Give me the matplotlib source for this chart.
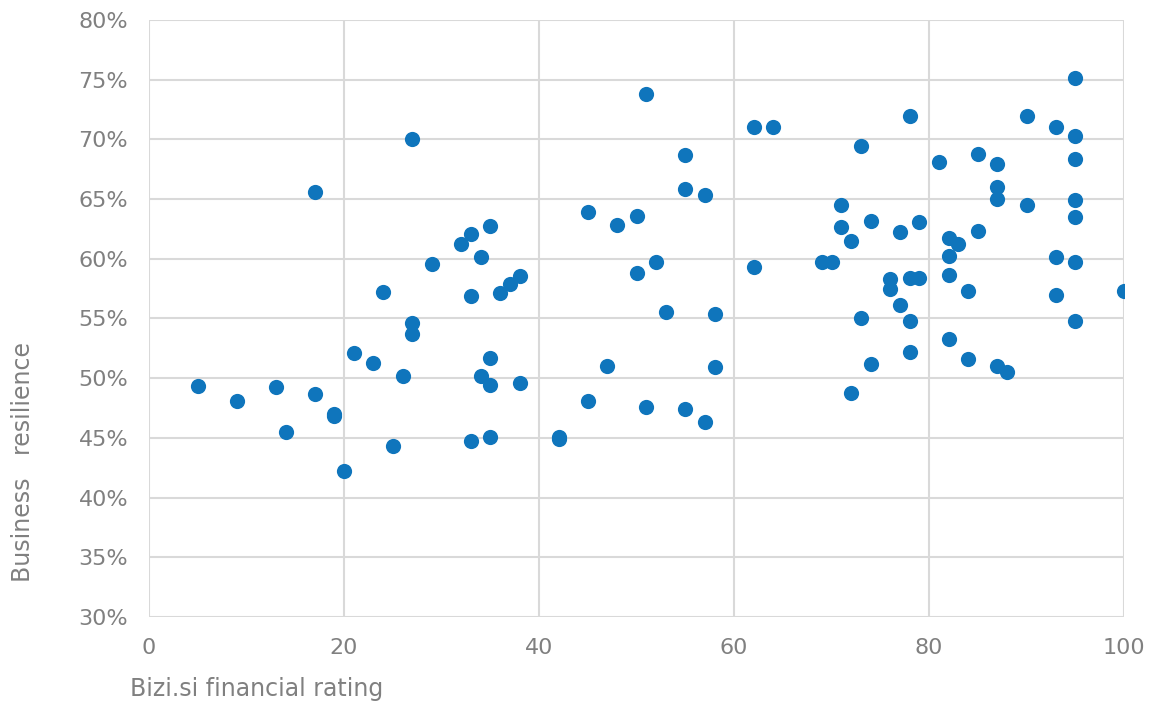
import matplotlib
matplotlib.use("Agg")
import matplotlib.pyplot as plt
from matplotlib.ticker import FuncFormatter, MultipleLocator

# Bizi.si financial rating vs. business resilience (%)
rating = [5, 9, 13, 14, 17, 17, 19, 19, 20, 21, 23, 24, 25, 26, 27, 27, 27, 29,
          32, 33, 33, 33, 34, 34, 35, 35, 35, 35, 36, 37, 38, 38, 42, 42,
          45, 45, 47, 48, 50, 50, 51, 51, 52, 53, 55, 55, 55, 57, 57, 58, 58,
          62, 62, 64, 69, 70, 71, 71, 72, 72, 73, 73, 74, 74, 76, 76, 77, 77,
          78, 78, 78, 78, 79, 79, 81, 82, 82, 82, 82, 83, 84, 84, 85, 85,
          87, 87, 87, 87, 88, 90, 90, 93, 93, 93, 95, 95, 95, 95, 95, 95, 95, 100]
resilience = [49.35, 48.05, 49.3, 45.5, 65.6, 48.7, 47.0, 46.8, 42.25, 52.1, 51.25, 57.2,
              44.3, 50.2, 70.0, 54.6, 53.7, 59.6,
              61.2, 62.1, 56.9, 44.7, 60.15, 50.2, 62.75, 51.7, 49.4, 45.1, 57.16, 57.86,
              58.56, 49.6, 45.1, 44.9,
              63.9, 48.05, 51.0, 62.8, 63.6, 58.8, 73.8, 47.6, 59.76, 55.52, 68.7, 65.85,
              47.45, 65.37, 46.3, 55.38, 50.9,
              71.04, 59.3, 71.0, 59.76, 59.7, 64.5, 62.7, 61.5, 48.8, 69.45, 55.07, 63.2,
              51.16, 58.28, 57.44, 62.25, 56.13,
              71.96, 58.4, 54.77, 52.17, 63.08, 58.4, 68.13, 61.7, 60.2, 58.64, 53.3, 61.27,
              57.33, 51.63, 68.8, 62.3,
              67.9, 66.0, 65.03, 51.05, 50.5, 72.0, 64.5, 71.04, 60.15, 56.97, 75.1, 70.26,
              68.36, 64.9, 63.5, 59.7, 54.75, 57.33]

x_label = "Bizi.si financial rating"
y_label = "Business   resilience"

plt.rcParams['font.family'] = ['DejaVu Sans']
gray = '#808080'

fig = plt.figure(figsize=(11.5, 7.04), dpi=100)
ax = fig.add_axes([0.1296, 0.1236, 0.8478, 0.848])

ax.scatter(rating, resilience, s=120, color='#0f75bc', zorder=3, linewidths=0)

ax.set_xlim(0, 100)
ax.set_ylim(30, 80)
ax.xaxis.set_major_locator(MultipleLocator(20))
ax.yaxis.set_major_locator(MultipleLocator(5))
ax.yaxis.set_major_formatter(FuncFormatter(lambda v, p: f"{v:.0f}%"))
ax.grid(True, color='#d9d9d9', linewidth=1.5)
ax.set_axisbelow(True)
for s in ax.spines.values():
    s.set_visible(False)
ax.tick_params(length=0, labelsize=16, labelcolor=gray, pad=15)

fig.text(0.113, 0.012, x_label, fontsize=17, color=gray, ha='left', va='baseline')
fig.text(0.02, 0.344, y_label, fontsize=17, color=gray, rotation=90, ha='center', va='center')

fig.savefig('out.png', dpi=100)
